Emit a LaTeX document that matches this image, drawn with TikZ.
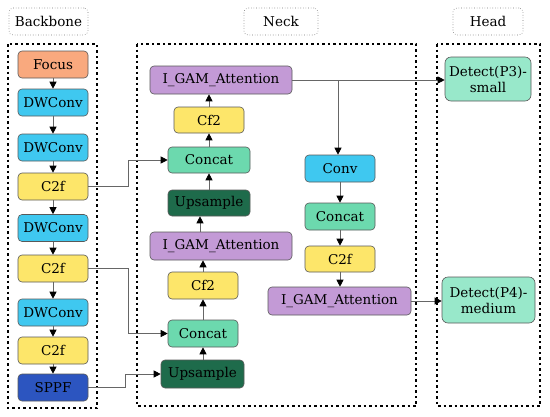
\documentclass[tikz,border=0pt]{standalone}
\usepackage{fontspec}
\setmainfont{DejaVu Serif}
\usetikzlibrary{arrows.meta}
\definecolor{cfocus}{HTML}{F9A97E}
\definecolor{cdw}{HTML}{3FC8F0}
\definecolor{cc2f}{HTML}{FDE66A}
\definecolor{csppf}{HTML}{2C55C0}
\definecolor{cgam}{HTML}{C39AD6}
\definecolor{cconcat}{HTML}{6CD9AE}
\definecolor{cup}{HTML}{1E6B4B}
\definecolor{cdet}{HTML}{98E8CA}
\definecolor{cedge}{HTML}{666666}
\tikzset{
  blk/.style={draw=black!65, line width=0.6pt, rounded corners=4pt, minimum height=27pt, minimum width=70pt, inner sep=0pt, font=\fontsize{13.5}{16}\selectfont, text=black},
  arr/.style={draw=cedge, line width=0.8pt, -{Triangle[length=7pt,width=7pt,fill=black,color=black]}},
  dotbox/.style={draw=black, line width=2.5pt, dash pattern=on 2.5pt off 3pt},
  lbl/.style={draw=black!55, line width=0.6pt, dotted, rounded corners=4pt, minimum width=76pt, minimum height=27pt, inner sep=0pt, font=\fontsize{13.5}{16}\selectfont}
}
\begin{document}
\begin{tikzpicture}[x=1pt,y=-1pt]
\useasboundingbox (0,0) rectangle (550,416);
% section labels
\node[lbl, minimum width=79pt] (lb) at (48.5,21.5) {Backbone};
\node[lbl, minimum width=74pt] (ln) at (281,21.5) {Neck};
\node[lbl, minimum width=70pt] (lh) at (488,21.5) {Head};
% dotted boxes
\draw[dotbox] (8,44) rectangle (97,408);
\draw[dotbox] (137,44) rectangle (416,406);
\draw[dotbox] (437,44) rectangle (540,406);
% backbone
\node[blk, fill=cfocus] (focus) at (53,64.5) {Focus};
\node[blk, fill=cdw] (dw1) at (53,102.5) {DWConv};
\node[blk, fill=cdw] (dw2) at (53,147.5) {DWConv};
\node[blk, fill=cc2f] (c2f1) at (53,186.5) {C2f};
\node[blk, fill=cdw] (dw3) at (53,228) {DWConv};
\node[blk, fill=cc2f] (c2f2) at (53,268.5) {C2f};
\node[blk, fill=cdw] (dw4) at (53,312.5) {DWConv};
\node[blk, fill=cc2f] (c2f3) at (53,350.5) {C2f};
\node[blk, fill=csppf] (sppf) at (53,387.5) {SPPF};
% neck left column
\node[blk, fill=cgam, minimum width=142pt, minimum height=28pt] (gam1) at (221,80) {I\_GAM\_Attention};
\node[blk, fill=cc2f, minimum height=26pt] (cf2a) at (209,120) {Cf2};
\node[blk, fill=cconcat, minimum width=82pt, minimum height=26pt] (cat1) at (209,160) {Concat};
\node[blk, fill=cup, minimum width=82pt, minimum height=26pt] (up1) at (209,203) {Upsample};
\node[blk, fill=cgam, minimum width=142pt, minimum height=28pt] (gam2) at (221,246) {I\_GAM\_Attention};
\node[blk, fill=cc2f] (cf2b) at (203,285.5) {Cf2};
\node[blk, fill=cconcat] (cat2) at (203,333.5) {Concat};
\node[blk, fill=cup, minimum width=83pt, minimum height=28pt] (up2) at (202.5,374) {Upsample};
% neck right column
\node[blk, fill=cdw] (conv) at (340,168.5) {Conv};
\node[blk, fill=cconcat] (cat3) at (340,216.5) {Concat};
\node[blk, fill=cc2f, minimum height=26pt] (c2f4) at (340,259) {C2f};
\node[blk, fill=cgam, minimum width=143pt, minimum height=28pt] (gam3) at (339.5,301) {I\_GAM\_Attention};
% head
\node[blk, fill=cdet, minimum width=86pt, minimum height=44pt, align=center, rounded corners=6pt] (det3) at (488,79) {Detect(P3)-\\small};
\node[blk, fill=cdet, minimum width=93pt, minimum height=46pt, align=center, rounded corners=6pt] (det4) at (488.5,300) {Detect(P4)-\\medium};
% backbone arrows
\draw[arr] (focus) -- (dw1);
\draw[arr] (dw1) -- (dw2);
\draw[arr] (dw2) -- (c2f1);
\draw[arr] (c2f1) -- (dw3);
\draw[arr] (dw3) -- (c2f2);
\draw[arr] (c2f2) -- (dw4);
\draw[arr] (dw4) -- (c2f3);
\draw[arr] (c2f3) -- (sppf);
% neck arrows
\draw[arr] (up2.north -| cat2.south) -- (cat2.south);
\draw[arr] (cat2) -- (cf2b);
\draw[arr] (cf2b.north) -- (cf2b.north |- gam2.south);
\draw[arr] ([xshift=-9pt]up1.south |- gam2.north) -- ([xshift=-9pt]up1.south);
\draw[arr] (up1) -- (cat1);
\draw[arr] (cat1) -- (cf2a);
\draw[arr] (cf2a.north) -- (cf2a.north |- gam1.south);
\coordinate (br) at (338,80);
\draw[arr] (gam1.east) -- (det3.west |- gam1.east);
\draw[arr] (br) -- (br |- conv.north);
\draw[arr] (conv) -- (cat3);
\draw[arr] (cat3) -- (c2f4);
\draw[arr] (c2f4) -- (c2f4.south |- gam3.north);
\draw[arr] (gam3.east) -- (det4.west |- gam3.east);
% cross connections
\draw[arr] (c2f1.east) -- (128,186.5) -- (128,160) -- (cat1.west);
\draw[arr] (c2f2.east) -- (128,268.5) -- (128,333.5) -- (cat2.west);
\draw[arr] (sppf.east) -- (125,387.5) -- (125,374) -- (up2.west);
\end{tikzpicture}
\end{document}
